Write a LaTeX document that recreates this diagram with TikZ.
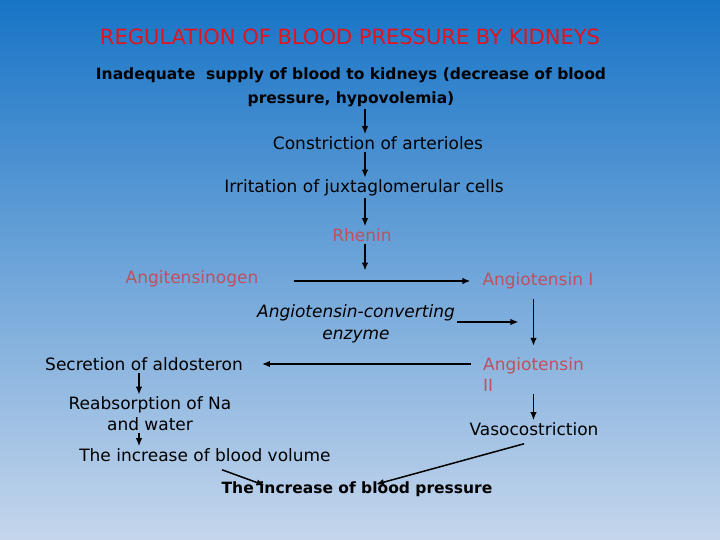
\documentclass[tikz,border=0pt]{standalone}
\usepackage{fontspec}
\setmainfont{DejaVu Sans}
\usetikzlibrary{positioning,arrows.meta}
\definecolor{skytop}{RGB}{24,116,198}
\definecolor{skymid}{RGB}{111,163,214}
\definecolor{skybot}{RGB}{197,214,236}
\definecolor{titlered}{RGB}{225,20,30}
\definecolor{hormonered}{RGB}{190,80,95}

\begin{document}
\begin{tikzpicture}[x=1pt, y=-1pt,
  txt/.style={font=\fontsize{17}{21}\selectfont, align=center, inner sep=2pt},
  bold/.style={txt, font=\fontsize{15.5}{24}\selectfont\bfseries},
  hormone/.style={txt, text=hormonered},
  arr/.style={-{Latex[length=8pt,width=6.5pt]}, line width=1.5pt}
]
\shade[top color=skytop, middle color=skymid, bottom color=skybot] (0,0) rectangle (720,540);
\useasboundingbox (0,0) rectangle (720,540);
\coordinate (col) at (365,0);
\coordinate (lcol) at (139,0);

\node[txt, text=titlered, font=\fontsize{21}{24}\selectfont] (title) at (350,37) {REGULATION OF BLOOD PRESSURE BY KIDNEYS};
\node[bold] (inad) at (351,87) {Inadequate\ \ supply of blood to kidneys (decrease of blood\\pressure, hypovolemia)};
\node[txt] (constr) at (378,143) {Constriction of arterioles};
\node[txt] (irrit) at (364,188) {Irritation of juxtaglomerular cells};
\node[hormone] (rh) at (362,235) {Rhenin};
\node[hormone] (agen) at (192,279) {Angitensinogen};
\node[hormone] (ang1) at (538,281) {Angiotensin I};
\node[txt, font=\fontsize{17}{22}\selectfont\itshape] (enz) at (356,324) {Angiotensin-converting\\enzyme};
\node[hormone, align=left, anchor=west] (ang2) at (481,375) {Angiotensin\\II};
\node[txt] (secr) at (144,364) {Secretion of aldosteron};
\node[txt] (reab) at (150,414) {Reabsorption of Na\\and water};
\node[txt] (vaso) at (534,429) {Vasocostriction};
\node[txt] (vol) at (205,455) {The increase of blood volume};
\node[bold] (press) at (357,489) {The increase of blood pressure};

\draw[arr] (inad.south -| col) -- (constr.north -| col);
\draw[arr] (constr.south -| col) -- (irrit.north -| col);
\draw[arr] (irrit.south -| col) -- (rh.north -| col);
\draw[arr] (rh.south -| col) -- (col |- ang1.north);
\draw[arr, shorten <=33pt, shorten >=10pt] (ang1.west -| agen.east) -- (ang1.west);
\draw[arr, shorten <=8pt, shorten >=10pt] (ang1.south -| ang2.north) -- (ang2.north);
\draw[arr, shorten >=15pt] ([yshift=2pt]enz.east) -- ([yshift=2pt]enz.east -| ang2.north);
\draw[arr, shorten <=10pt, shorten >=17pt] (secr -| ang2.west) -- (secr.east);
\draw[arr] (secr.south -| lcol) -- (reab.north -| lcol);
\draw[arr] (ang2.south -| ang2.north) -- (vaso.north -| ang2.north);
\draw[arr] (reab.south -| lcol) -- (vol.north -| lcol);
\draw[arr] ([xshift=17pt,yshift=-6pt]vol.south) -- ([xshift=45pt,yshift=-6pt]press.north west);
\draw[arr] ([xshift=-10pt,yshift=-6pt]vaso.south) -- ([xshift=19pt,yshift=-5pt]press.north);
\end{tikzpicture}
\end{document}
